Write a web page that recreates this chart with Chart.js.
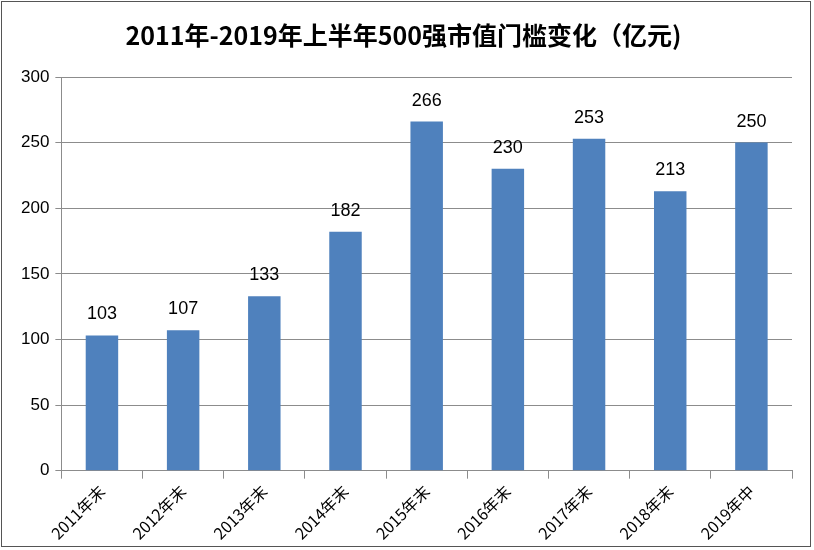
<!DOCTYPE html>
<html><head><meta charset="utf-8">
<script src="https://cdn.jsdelivr.net/npm/chart.js@4"></script>
<style>
html,body{margin:0;padding:0;background:#fff}
#wrap{position:absolute;left:1px;top:1px;width:810px;height:546px;border:1px solid #555;box-sizing:border-box}
</style></head><body>
<div id="wrap"><canvas id="c"></canvas></div>
<script>
const categories = ['2011年末','2012年末','2013年末','2014年末','2015年末','2016年末','2017年末','2018年末','2019年中'];
const values     = [103,107,133,182,266,230,253,213,250];
const yTicks     = [0,50,100,150,200,250,300];

// 柱顶数值
const topLabels = {
  id: 'topLabels',
  afterDatasetsDraw(chart) {
    const ctx = chart.ctx;
    const meta = chart.getDatasetMeta(0);
    ctx.save();
    ctx.font = '18px "Liberation Sans", Arial, sans-serif';
    ctx.fillStyle = '#000';
    ctx.textAlign = 'center';
    ctx.textBaseline = 'bottom';
    meta.data.forEach((bar, i) => ctx.fillText(values[i], bar.x, bar.y - 12));
    ctx.restore();
  }
};

new Chart(document.getElementById('c'), {
  type: 'bar',
  data: {
    labels: categories,
    datasets: [{ data: values, backgroundColor: '#4F81BD', barPercentage: 0.4, categoryPercentage: 1 }]
  },
  options: {
    responsive: true,
    maintainAspectRatio: false,
    animation: false,
    layout: { padding: { left: 13, right: 18, top: 8, bottom: 0 } },
    plugins: {
      legend: { display: false },
      tooltip: { enabled: false },
      title: {
        display: true,
        text: '2011年-2019年上半年500强市值门槛变化（亿元)',
        color: '#000',
        font: { size: 25, weight: 'bold', family: '"Noto Sans CJK SC", sans-serif' },
        padding: { top: 10, bottom: 27 }
      }
    },
    scales: {
      y: {
        min: 0, max: 300,
        afterBuildTicks: ax => { ax.ticks = yTicks.map(v => ({ value: v })); },
        grid: { color: '#8c8c8c', drawTicks: true, tickLength: 6 },
        border: { color: '#8c8c8c' },
        ticks: { color: '#000', font: { size: 17, family: '"Liberation Sans", Arial' }, padding: 6 }
      },
      x: {
        grid: { display: true, drawOnChartArea: false, color: '#8c8c8c', tickLength: 8, offset: true },
        border: { color: '#8c8c8c' },
        ticks: { color: '#000', maxRotation: 45, minRotation: 45, font: { size: 16, family: '"Noto Sans CJK SC", sans-serif' } }
      }
    }
  },
  plugins: [topLabels]
});
</script>
</body></html>
